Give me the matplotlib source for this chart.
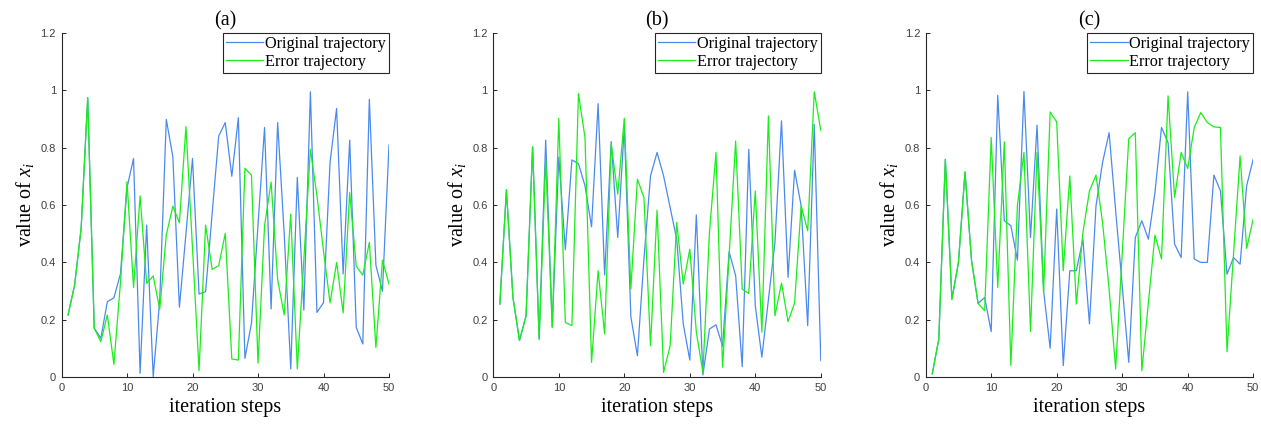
import matplotlib
matplotlib.use("Agg")
import matplotlib.pyplot as plt
from matplotlib.ticker import FixedLocator, FixedFormatter

steps = list(range(1, 51))

a_original = [0.217, 0.321, 0.519, 0.974, 0.171, 0.136, 0.263, 0.277, 0.36, 0.66,
              0.762, 0.014, 0.53, 0.002, 0.27, 0.898, 0.768, 0.244, 0.50, 0.762,
              0.29, 0.298, 0.57, 0.84, 0.887, 0.70, 0.904, 0.066, 0.188, 0.53,
              0.870, 0.238, 0.887, 0.50, 0.029, 0.696, 0.234, 0.994, 0.226, 0.26,
              0.748, 0.936, 0.36, 0.826, 0.174, 0.116, 0.968, 0.39, 0.30, 0.808]
a_error = [0.217, 0.321, 0.519, 0.974, 0.171, 0.124, 0.217, 0.045, 0.33, 0.681,
           0.313, 0.632, 0.327, 0.353, 0.237, 0.496, 0.596, 0.538, 0.873, 0.45,
           0.023, 0.53, 0.376, 0.389, 0.501, 0.064, 0.06, 0.728, 0.704, 0.049,
           0.528, 0.68, 0.34, 0.217, 0.568, 0.029, 0.41, 0.794, 0.632, 0.44,
           0.259, 0.40, 0.224, 0.643, 0.386, 0.356, 0.47, 0.104, 0.408, 0.325]

b_original = [0.255, 0.653, 0.278, 0.128, 0.214, 0.803, 0.133, 0.826, 0.176, 0.767,
              0.444, 0.757, 0.744, 0.667, 0.524, 0.953, 0.356, 0.821, 0.487, 0.872,
              0.211, 0.075, 0.412, 0.701, 0.783, 0.701, 0.591, 0.481, 0.186, 0.06,
              0.565, 0.008, 0.168, 0.183, 0.108, 0.437, 0.354, 0.037, 0.794, 0.249,
              0.07, 0.27, 0.47, 0.893, 0.348, 0.721, 0.597, 0.18, 0.881, 0.058]
b_error = [0.255, 0.653, 0.278, 0.128, 0.214, 0.803, 0.133, 0.759, 0.174, 0.902,
           0.191, 0.18, 0.988, 0.835, 0.052, 0.371, 0.151, 0.812, 0.638, 0.902,
           0.307, 0.69, 0.626, 0.11, 0.582, 0.017, 0.11, 0.539, 0.325, 0.446,
           0.157, 0.017, 0.504, 0.783, 0.035, 0.423, 0.823, 0.307, 0.292, 0.649,
           0.157, 0.91, 0.214, 0.328, 0.194, 0.259, 0.597, 0.51, 0.994, 0.86]

c_original = [0.012, 0.133, 0.759, 0.272, 0.40, 0.715, 0.406, 0.257, 0.278, 0.159,
              0.982, 0.545, 0.528, 0.408, 0.995, 0.487, 0.878, 0.301, 0.101, 0.586,
              0.041, 0.371, 0.371, 0.481, 0.186, 0.597, 0.748, 0.852, 0.58, 0.32,
              0.052, 0.487, 0.545, 0.481, 0.643, 0.87, 0.817, 0.464, 0.417, 0.994,
              0.412, 0.40, 0.40, 0.704, 0.649, 0.359, 0.417, 0.394, 0.667, 0.759]
c_error = [0.012, 0.133, 0.759, 0.272, 0.40, 0.715, 0.406, 0.257, 0.232, 0.835,
           0.313, 0.82, 0.041, 0.597, 0.783, 0.159, 0.783, 0.296, 0.924, 0.889,
           0.371, 0.701, 0.255, 0.504, 0.649, 0.704, 0.539, 0.307, 0.029, 0.43,
           0.831, 0.852, 0.023, 0.26, 0.495, 0.412, 0.98, 0.626, 0.783, 0.727,
           0.87, 0.922, 0.887, 0.872, 0.87, 0.089, 0.43, 0.771, 0.449, 0.551]

titles = ["(a)", "(b)", "(c)"]
series_names = ["Original trajectory", "Error trajectory"]
xtick_vals = [0, 10, 20, 30, 40, 50]
ytick_vals = [0, 0.2, 0.4, 0.6, 0.8, 1.0, 1.2]
ytick_labels = ["0", "0.2", "0.4", "0.6", "0.8", "1", "1.2"]

panels = [(a_original, a_error), (b_original, b_error), (c_original, c_error)]

plt.rcParams['mathtext.fontset'] = 'custom'
plt.rcParams['mathtext.rm'] = 'Liberation Serif'
plt.rcParams['mathtext.it'] = 'Liberation Serif:italic'

W, H = 1261, 425
fig = plt.figure(figsize=(W / 100, H / 100), dpi=100)
fig.patch.set_facecolor('white')

lefts = [61.5, 493.3, 925.7]
ax_w = 327.5
ax_bottom = 425 - 377.3
ax_h = 377.3 - 32.7

serif = 'Liberation Serif'
sans = 'Liberation Sans'
axcol = '#262626'
blue = '#4a8af0'
green = '#1aee1a'

for k, (orig, err) in enumerate(panels):
    ax = fig.add_axes([lefts[k] / W, ax_bottom / H, ax_w / W, ax_h / H])
    ax.plot(steps, orig, color=blue, lw=0.9, label=series_names[0])
    ax.plot(steps, err, color=green, lw=0.9, label=series_names[1])
    ax.set_xlim(0, 50)
    ax.set_ylim(0, 1.2)
    ax.xaxis.set_major_locator(FixedLocator(xtick_vals))
    ax.yaxis.set_major_locator(FixedLocator(ytick_vals))
    ax.yaxis.set_major_formatter(FixedFormatter(ytick_labels))
    for s in ['top', 'right']:
        ax.spines[s].set_visible(False)
    for s in ['left', 'bottom']:
        ax.spines[s].set_color(axcol)
        ax.spines[s].set_linewidth(0.8)
    ax.tick_params(direction='in', length=3, width=0.7, color=axcol,
                   labelcolor='#404040', labelsize=8, pad=4)
    for lab in ax.get_xticklabels() + ax.get_yticklabels():
        lab.set_fontfamily(sans)
    ax.set_xlabel('iteration steps', fontfamily=serif, fontsize=14.5, labelpad=4)
    ax.set_ylabel('value of $\\mathit{x}_{i}$', fontfamily=serif, fontsize=14.5, labelpad=3)
    ax.set_title(titles[k], fontfamily=serif, fontsize=14.5, pad=5)
    leg = ax.legend(loc='upper right', bbox_to_anchor=(1.0, 1.0), borderaxespad=0,
                    prop={'family': serif, 'size': 11.7}, fancybox=False,
                    framealpha=1, edgecolor=axcol, handlelength=2.3,
                    handletextpad=0.1, labelspacing=0.1, borderpad=0.2)
    leg.get_frame().set_linewidth(0.8)

fig.savefig('out.png', dpi=100)
